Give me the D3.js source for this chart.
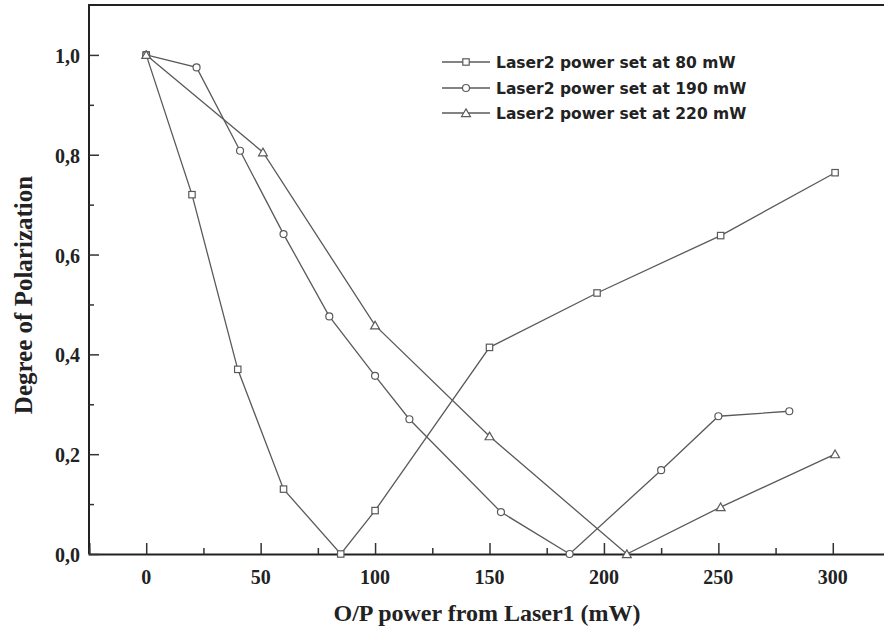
<!DOCTYPE html>
<html>
<head>
<meta charset="utf-8">
<script src="https://cdn.jsdelivr.net/npm/d3@7"></script>
<style>
  body { margin: 0; background: #fff; }
  svg { display: block; }
</style>
</head>
<body>
<svg id="chart" width="884" height="634"></svg>
<script>
// Laser2 power set at 80 mW (squares)
let p80x = [0, 20, 40, 60, 85, 100, 150, 197, 251, 301]
let p80y = [1.0, 0.72, 0.37, 0.13, 0.0, 0.087, 0.414, 0.523, 0.638, 0.764]
// Laser2 power set at 190 mW (circles)
let p190x = [0, 22, 41, 60, 80, 100, 115, 155, 185, 225, 250, 281]
let p190y = [1.0, 0.975, 0.808, 0.641, 0.476, 0.357, 0.27, 0.084, 0.0, 0.168, 0.276, 0.286]
// Laser2 power set at 220 mW (triangles)
let p220x = [0, 51, 100, 150, 210, 251, 301]
let p220y = [1.0, 0.805, 0.458, 0.236, 0.0, 0.094, 0.2]

let seriesNames = ["Laser2 power set at 80 mW", "Laser2 power set at 190 mW", "Laser2 power set at 220 mW"]
let seriesShapes = ["square", "circle", "triangle"]

let xTicks = [0, 50, 100, 150, 200, 250, 300]
let xMinor = [-25, 25, 75, 125, 175, 225, 275, 325]
let yTicks = [0, 0.2, 0.4, 0.6, 0.8, 1.0]
let yMinor = [0.1, 0.3, 0.5, 0.7, 0.9]

let svg = d3.select("#chart")
let lineColor = "#5a5a5a"

let x = d3.scaleLinear().domain([-25, 325]).range([89, 890])
let y = d3.scaleLinear().domain([0, 1.1]).range([554, 5])

let series = [
  p80x.map((v, i) => ({ x: v, y: p80y[i] })),
  p190x.map((v, i) => ({ x: v, y: p190y[i] })),
  p220x.map((v, i) => ({ x: v, y: p220y[i] }))
]

// frame (top + left), right side is outside the picture
svg.append("path")
  .attr("d", `M${x(-25)},${y(0)}V${y(1.1)}H${x(325)}`)
  .attr("fill", "none")
  .attr("stroke", "#222")
  .attr("stroke-width", 2)

// x axis, ticks pointing inward
let xAxis = svg.append("g")
  .attr("transform", `translate(0,${y(0)})`)
  .call(d3.axisTop(x).tickValues(xTicks).tickSize(11).tickFormat(""))
xAxis.select(".domain").attr("stroke", "#222").attr("stroke-width", 2)
xAxis.selectAll(".tick line").attr("stroke", "#333").attr("stroke-width", 1.5)
svg.append("g")
  .attr("transform", `translate(0,${y(0)})`)
  .call(d3.axisTop(x).tickValues(xMinor).tickSize(6).tickFormat(""))
  .call(g => g.select(".domain").remove())
  .selectAll(".tick line").attr("stroke", "#333").attr("stroke-width", 1.5)

svg.append("g")
  .selectAll("text")
  .data(xTicks)
  .join("text")
  .attr("x", d => x(d))
  .attr("y", 584)
  .attr("text-anchor", "middle")
  .style("font-family", "Liberation Serif")
  .style("font-weight", "bold")
  .style("font-size", "20px")
  .style("fill", "#222")
  .text(d => d)

// y axis, ticks pointing inward
let yAxis = svg.append("g")
  .attr("transform", `translate(${x(-25)},0)`)
  .call(d3.axisRight(y).tickValues(yTicks).tickSize(10).tickFormat(""))
yAxis.select(".domain").remove()
yAxis.selectAll(".tick line").attr("stroke", "#333").attr("stroke-width", 1.5)
svg.append("g")
  .attr("transform", `translate(${x(-25)},0)`)
  .call(d3.axisRight(y).tickValues(yMinor).tickSize(5).tickFormat(""))
  .call(g => g.select(".domain").remove())
  .selectAll(".tick line").attr("stroke", "#333").attr("stroke-width", 1.5)

svg.append("g")
  .selectAll("text")
  .data(yTicks)
  .join("text")
  .attr("x", 80)
  .attr("y", d => y(d) + 8)
  .attr("text-anchor", "end")
  .style("font-family", "Liberation Serif")
  .style("font-weight", "bold")
  .style("font-size", "20px")
  .style("fill", "#222")
  .text(d => d3.format(".1f")(d).replace(".", ","))

// axis titles
svg.append("text")
  .attr("x", 487)
  .attr("y", 621)
  .attr("text-anchor", "middle")
  .style("font-family", "Liberation Serif")
  .style("font-weight", "bold")
  .style("font-size", "24px")
  .style("fill", "#222")
  .text("O/P power from Laser1 (mW)")

svg.append("text")
  .attr("transform", "translate(32,295) rotate(-90)")
  .attr("text-anchor", "middle")
  .style("font-family", "Liberation Serif")
  .style("font-weight", "bold")
  .style("font-size", "25px")
  .style("fill", "#222")
  .text("Degree of Polarization")

let line = d3.line().x(d => x(d.x)).y(d => y(d.y))

function drawMarker(g, shape, cx, cy) {
  if (shape == "square") {
    g.append("rect")
      .attr("x", cx - 3.2).attr("y", cy - 3.2)
      .attr("width", 6.4).attr("height", 6.4)
      .attr("fill", "#fff").attr("stroke", lineColor).attr("stroke-width", 1.2)
  } else if (shape == "circle") {
    g.append("circle")
      .attr("cx", cx).attr("cy", cy).attr("r", 3.5)
      .attr("fill", "#fff").attr("stroke", lineColor).attr("stroke-width", 1.2)
  } else {
    g.append("path")
      .attr("d", d3.symbol(d3.symbolTriangle, 34)())
      .attr("transform", `translate(${cx},${cy + 1})`)
      .attr("fill", "#fff").attr("stroke", lineColor).attr("stroke-width", 1.2)
  }
}

series.forEach((s, i) => {
  svg.append("path")
    .datum(s)
    .attr("d", line)
    .attr("fill", "none")
    .attr("stroke", lineColor)
    .attr("stroke-width", 1.3)
  let g = svg.append("g")
  s.forEach(d => drawMarker(g, seriesShapes[i], x(d.x), y(d.y)))
})

// legend
let legendY = [62, 88, 113]
seriesNames.forEach((name, i) => {
  let g = svg.append("g")
  g.append("line")
    .attr("x1", 442).attr("x2", 490)
    .attr("y1", legendY[i]).attr("y2", legendY[i])
    .attr("stroke", lineColor).attr("stroke-width", 1.3)
  drawMarker(g, seriesShapes[i], 466, legendY[i])
  g.append("text")
    .attr("x", 496)
    .attr("y", legendY[i] + 6)
    .style("font-family", "DejaVu Sans")
    .style("font-weight", "bold")
    .style("font-size", "15.5px")
    .style("fill", "#222")
    .text(name)
})
</script>
</body>
</html>
